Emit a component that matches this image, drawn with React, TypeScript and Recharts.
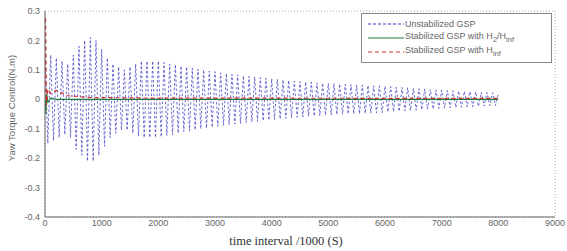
import { LineChart, Line, XAxis, YAxis, CartesianGrid } from 'recharts';

// unstabilized response: peak values, one every 50 time units
const unstabStep = 50;
const unstabValues = [
  0.14, -0.15, 0.15, -0.14, 0.14, -0.13, 0.13, -0.12, 0.12, -0.13,
  0.15, -0.17, 0.18, -0.19, 0.2, -0.21, 0.21, -0.21, 0.2, -0.19,
  0.17, -0.16, 0.14, -0.13, 0.12, -0.115, 0.11, -0.105, 0.1, -0.105,
  0.11, -0.115, 0.12, -0.125, 0.13, -0.13, 0.13, -0.13, 0.13, -0.13,
  0.13, -0.128, 0.125, -0.123, 0.12, -0.12, 0.118, -0.115, 0.113, -0.11,
  0.11, -0.108, 0.106, -0.104, 0.102, -0.1, 0.1, -0.098, 0.096, -0.095,
  0.094, -0.092, 0.09, -0.089, 0.088, -0.086, 0.085, -0.084, 0.083, -0.082,
  0.08, -0.079, 0.078, -0.077, 0.076, -0.075, 0.074, -0.073, 0.072, -0.071,
  0.07, -0.069, 0.068, -0.067, 0.066, -0.065, 0.064, -0.063, 0.062, -0.061,
  0.06, -0.06, 0.059, -0.058, 0.058, -0.057, 0.056, -0.056, 0.055, -0.054,
  0.054, -0.053, 0.053, -0.052, 0.052, -0.051, 0.051, -0.05, 0.05, -0.05,
  0.049, -0.049, 0.048, -0.048, 0.047, -0.047, 0.046, -0.046, 0.045, -0.045,
  0.044, -0.043, 0.043, -0.042, 0.041, -0.041, 0.04, -0.039, 0.039, -0.038,
  0.037, -0.037, 0.036, -0.035, 0.035, -0.034, 0.033, -0.033, 0.032, -0.031,
  0.031, -0.03, 0.03, -0.029, 0.029, -0.028, 0.028, -0.027, 0.027, -0.026,
  0.026, -0.025, 0.025, -0.024, 0.024, -0.023, 0.023, -0.022, 0.022, -0.021,
  0.02,
];

// stabilized with H2/Hinf
const mixedTimes = [0, 15, 30, 50, 100, 200, 8000];
const mixedValues = [0, -0.05, 0.02, -0.01, 0.004, 0, 0];

// stabilized with Hinf
const hinfTimes = [0, 10, 25, 50, 100, 200, 400, 800, 2000, 8000];
const hinfValues = [0, 0.28, -0.02, 0.035, 0.02, 0.03, 0.012, 0.006, 0.004, 0.003];

const xTicks = [0, 1000, 2000, 3000, 4000, 5000, 6000, 7000, 8000, 9000];
const yTicks = [-0.4, -0.3, -0.2, -0.1, 0, 0.1, 0.2, 0.3];

const unstabData = unstabValues.map((v, i) => ({ t: i * unstabStep, v }));
const mixedData = mixedTimes.map((t, i) => ({ t, v: mixedValues[i] }));
const hinfData = hinfTimes.map((t, i) => ({ t, v: hinfValues[i] }));

const tickStyle = { fontSize: 9, fill: '#666', fontFamily: 'Arial, sans-serif' };

const legendRows = [
  { stroke: '#3a3ad0', dash: '3 2', label: <>Unstabilized GSP</> },
  { stroke: '#1f7a3a', dash: undefined, label: <>Stabilized GSP with H<sub>2</sub>/H<sub>inf</sub></> },
  { stroke: '#d03030', dash: '4 3', label: <>Stabilized GSP with H<sub>inf</sub></> },
];

const LegendBox = () => (
  <div
    style={{
      position: 'absolute',
      left: 361,
      top: 13,
      border: '1px solid #888',
      background: '#fff',
      width: 189,
      height: 48,
      fontFamily: 'Arial, sans-serif',
      fontSize: 9,
      color: '#666',
    }}
  >
    {legendRows.map((row, i) => (
      <div
        key={i}
        style={{ position: 'absolute', left: 6, top: 4 + i * 14, height: 12, display: 'flex', alignItems: 'center' }}
      >
        <svg width={36} height={8}>
          <line x1={0} y1={4} x2={36} y2={4} stroke={row.stroke} strokeWidth={1.2} strokeDasharray={row.dash} />
        </svg>
        <span style={{ marginLeft: 1, whiteSpace: 'nowrap', lineHeight: '9px' }}>{row.label}</span>
      </div>
    ))}
  </div>
);

export default function App() {
  return (
    <div style={{ position: 'absolute', left: 0, top: 0, width: 567, height: 251, background: '#fff' }}>
      <LineChart width={567} height={251} margin={{ top: 11, right: 12, left: 0, bottom: 0 }}>
        <CartesianGrid stroke="#aaa" strokeDasharray="1 2" />
        <XAxis
          xAxisId="b"
          dataKey="t"
          type="number"
          domain={[0, 9000]}
          ticks={xTicks}
          height={34}
          tick={tickStyle}
          tickSize={0}
          tickMargin={3}
          stroke="#666"
          allowDataOverflow
        />
        <XAxis
          xAxisId="top"
          orientation="top"
          type="number"
          domain={[0, 9000]}
          ticks={xTicks}
          height={0}
          mirror
          tickSize={3}
          tickFormatter={() => ''}
          stroke="#666"
        />
        <YAxis
          yAxisId="l"
          type="number"
          domain={[-0.4, 0.3]}
          ticks={yTicks}
          width={45}
          tick={tickStyle}
          tickSize={0}
          tickMargin={5}
          tickFormatter={(v: number) => (v === 0 ? '0' : v.toFixed(1))}
          stroke="#666"
          allowDataOverflow
        />
        <YAxis
          yAxisId="right"
          orientation="right"
          type="number"
          domain={[-0.4, 0.3]}
          ticks={yTicks}
          width={0}
          mirror
          tickSize={3}
          tickFormatter={() => ''}
          stroke="#666"
        />
        <Line
          xAxisId="b"
          yAxisId="l"
          data={unstabData}
          dataKey="v"
          stroke="#4848c8"
          strokeWidth={0.8}
          strokeDasharray="2.5 2"
          dot={false}
          isAnimationActive={false}
        />
        <Line
          xAxisId="b"
          yAxisId="l"
          data={mixedData}
          dataKey="v"
          stroke="#1f7a3a"
          strokeWidth={1.2}
          dot={false}
          isAnimationActive={false}
        />
        <Line
          xAxisId="b"
          yAxisId="l"
          data={hinfData}
          dataKey="v"
          stroke="#d03030"
          strokeWidth={1.2}
          strokeDasharray="4 3"
          dot={false}
          isAnimationActive={false}
        />
      </LineChart>
      <LegendBox />
      <div
        style={{
          position: 'absolute',
          left: 11,
          top: 108,
          transform: 'translate(-50%, -50%) rotate(-90deg)',
          fontFamily: 'Arial, sans-serif',
          fontSize: 9.5,
          color: '#666',
          whiteSpace: 'nowrap',
        }}
      >
        Yaw Torque Control(N.m)
      </div>
      <div
        style={{
          position: 'absolute',
          left: 286,
          top: 241,
          transform: 'translate(-50%, -50%)',
          fontFamily: '"Liberation Serif", serif',
          fontSize: 12.5,
          color: '#333',
          whiteSpace: 'nowrap',
        }}
      >
        time interval /1000 (S)
      </div>
    </div>
  );
}
